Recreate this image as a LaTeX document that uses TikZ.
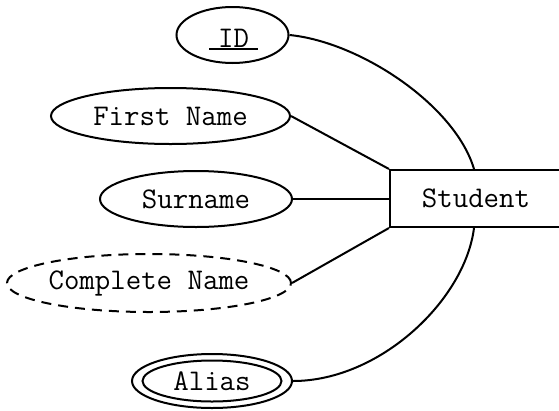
\documentclass[tikz,border=0pt]{standalone}
\usetikzlibrary{shapes.geometric}

\tikzset{
    atributo/.style={draw, ellipse, line width=2pt, inner sep=0pt, minimum height=56pt, font=\ttfamily\fontsize{30}{36}\selectfont},
    entidade/.style={draw, rectangle, line width=2pt, minimum width=172pt, minimum height=57pt, font=\ttfamily\fontsize{30}{36}\selectfont},
    ligacao/.style={line width=2pt}
}

\begin{document}
\begin{tikzpicture}[x=1pt, y=-1pt]
    \useasboundingbox (0,0) rectangle (559,410);

    % Entidade
    \node[entidade] (student) at (476,198.5) {Student};
    \coordinate (topo) at ([xshift=85pt]student.north west);
    \coordinate (base) at ([xshift=85pt]student.south west);

    % Atributos
    \node[atributo, minimum width=112pt] (id) at (232.5,35) {}; % chave
    \node[font=\ttfamily\fontsize{30}{36}\selectfont] (idtxt) at (233.5,38.5) {ID};
    \draw[line width=2pt] ([xshift=-24.5pt,yshift=-10.5pt]idtxt.center) -- ([xshift=24.5pt,yshift=-10.5pt]idtxt.center); % sublinhado
    \node[atributo, minimum width=239pt] (fname) at (170.5,116) {First Name};
    \node[atributo, minimum width=192pt] (surname) at (196,199) {Surname};
    \node[atributo, dash pattern=on 10pt off 7pt, minimum width=282pt, minimum height=58pt] (cname) at (149,283) {Complete Name}; % derivado
    \node[atributo, minimum width=160pt, minimum height=54pt] (alias) at (212,381) {}; % multivalorado
    \node[atributo, minimum width=139pt, minimum height=41pt] (aliasin) at (212,381) {Alias};

    % Ligações
    \draw[ligacao] (id.east) .. controls (360,42) and (455,105) .. (topo);
    \draw[ligacao] (fname.east) -- (student.north west);
    \draw[ligacao] (surname.east) -- (surname.east -| student.west);
    \draw[ligacao] (cname.east) -- (student.south west);
    \draw[ligacao] (alias.east) .. controls (380,381) and (465,300) .. (base);
\end{tikzpicture}
\end{document}
